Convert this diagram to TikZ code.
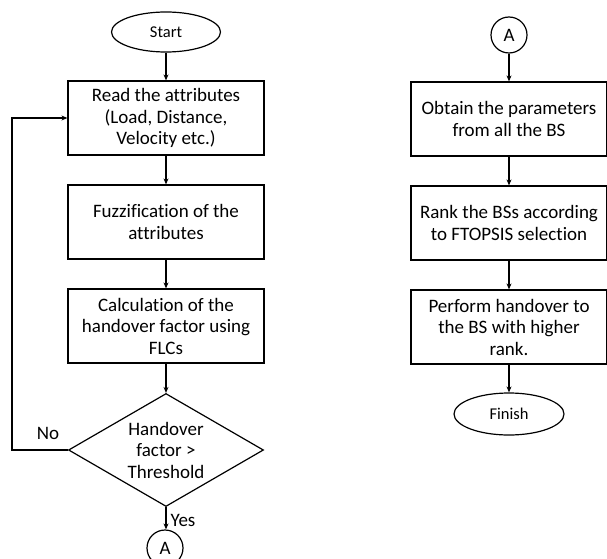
\documentclass[tikz,border=0pt]{standalone}
\usepackage{fontspec}
\setmainfont{Carlito}[Ligatures=NoCommon]
\usepackage{tikz}
\usetikzlibrary{shapes.geometric,arrows.meta,positioning}

\begin{document}
\begin{tikzpicture}[x=1pt, y=1pt, line width=1.2pt,
        font=\fontsize{19}{21.5}\selectfont,
        flowbox/.style={draw, rectangle, minimum width=196, minimum height=74, align=center, inner sep=0pt},
        terminal/.style={draw, ellipse, minimum width=109, minimum height=40, inner sep=0pt, font=\fontsize{16.5}{19}\selectfont},
        connector/.style={draw, circle, minimum size=36, inner sep=0pt},
        decision/.style={draw, diamond, aspect=1.73, minimum width=195, minimum height=113, inner sep=0pt, align=center},
        flow/.style={-{Stealth[length=6pt, width=5pt]}}]
        \useasboundingbox (0,0) rectangle (607,558);
        % left column
        \node[terminal] (start) at (166, 526) {Start};
        \node[flowbox] (read) at (166, 440) {Read the attributes\\(Load, Distance,\\Velocity etc.)};
        \node[flowbox] (fuzzy) at (166, 336) {Fuzzification of the\\attributes};
        \node[flowbox] (calc) at (166, 232) {Calculation of the\\handover factor using\\FLCs};
        \node[decision] (check) at (166, 108) {Handover\\factor >\\Threshold};
        \node[connector] (goA) at (165, 10) {A};
        \coordinate (loop) at (12, 108);
        \draw[flow] (start) -- (read);
        \draw[flow] (read) -- (fuzzy);
        \draw[flow] (fuzzy) -- (calc);
        \draw[flow] (calc) -- (check);
        \draw[flow] (check.west) -- (loop) |- (read.west);
        \draw[flow] (check.south) -- (goA.north -| check.south);
        \node (no) at (48, 125) {No};
        \node (yes) at (183, 38) {Yes};
        % right column
        \node[connector] (fromA) at (509, 523) {A};
        \node[flowbox] (obtain) at (509, 439) {Obtain the parameters\\from all the BS};
        \node[flowbox] (rank) at (509, 335) {Rank the BSs according\\to FTOPSIS selection};
        \node[flowbox] (perform) at (509, 231) {Perform handover to\\the BS with higher\\rank.};
        \node[terminal, minimum width=110, minimum height=42] (finish) at (509, 144) {Finish};
        \draw[flow] (fromA) -- (obtain);
        \draw[flow] (obtain) -- (rank);
        \draw[flow] (rank) -- (perform);
        \draw[flow] (perform) -- (finish);
    \end{tikzpicture}
\end{document}
